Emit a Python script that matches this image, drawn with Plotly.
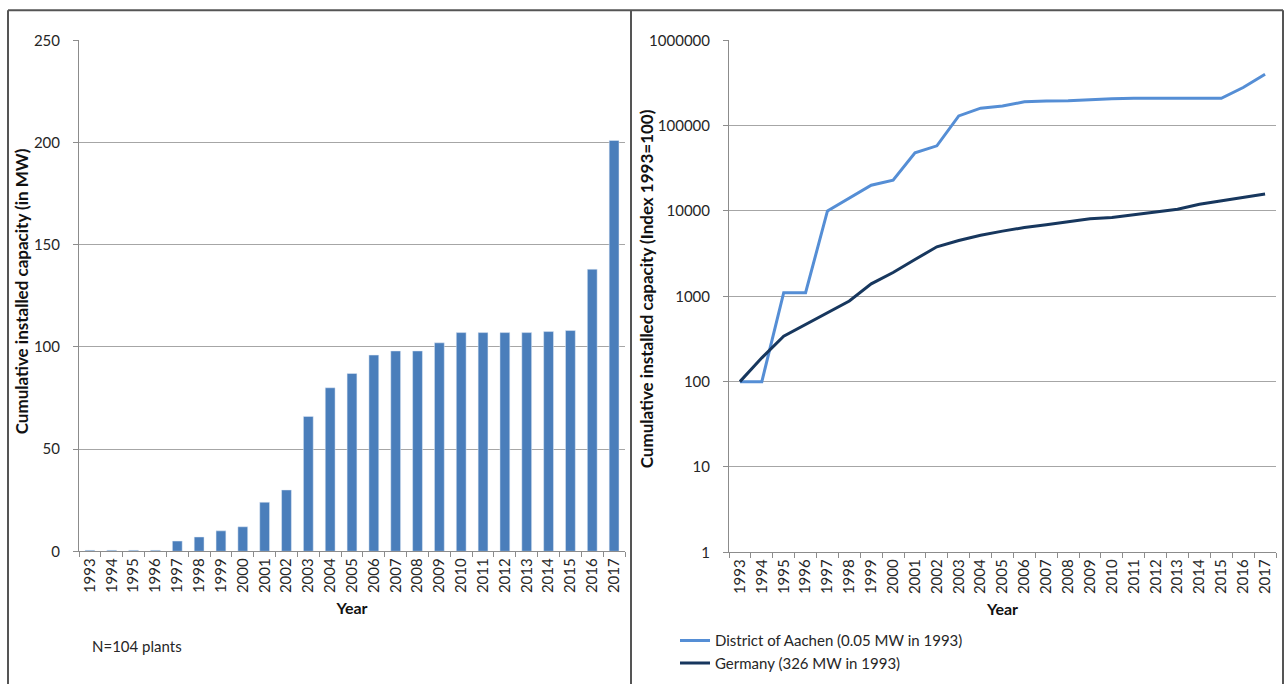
import plotly.graph_objects as go

# Years on the category axes
years = [str(y) for y in range(1993, 2018)]

# Cumulative installed capacity in the District of Aachen (MW)
capacity_mw = [0.5, 0.5, 0.5, 0.5, 5, 7, 10, 12, 24, 30, 66, 80, 87, 96, 98, 98,
               102, 107, 107, 107, 107, 107.5, 108, 138, 201]

# Indexed cumulative capacity (1993 = 100)
aachen_index = [100, 100, 1100, 1100, 10000, 14000, 20000, 23000, 48000, 58000,
                130000, 160000, 170000, 190000, 195000, 196000, 202000, 207000,
                209000, 209000, 209000, 209000, 209000, 280000, 400000]
germany_index = [100, 190, 340, 470, 640, 880, 1400, 1900, 2700, 3800, 4500, 5200,
                 5800, 6400, 6900, 7400, 8100, 8400, 9000, 9700, 10500, 12000,
                 13200, 14300, 15800]

W, H = 1287, 692
# vertical placement: screen y = SY * figure y + OY
SY, OY = 0.974, 9.7
FONT = "Lato, Open Sans, sans-serif"
GRID = "#a6a6a6"
AXIS = "#8c8c8c"
TXT = "#262626"


def px(x):
    return x / W


def py(y):
    return 1 - ((y - OY) / SY) / H


fig = go.Figure()

fig.add_trace(go.Bar(
    x=years, y=capacity_mw, marker_color="#4a7ebb", width=0.45,
    showlegend=False, xaxis="x", yaxis="y"))

fig.add_trace(go.Scatter(
    x=years, y=aachen_index, mode="lines", name="District of Aachen (0.05 MW in 1993)",
    line=dict(color="#558ed5", width=3), xaxis="x2", yaxis="y2"))
fig.add_trace(go.Scatter(
    x=years, y=germany_index, mode="lines", name="Germany (326 MW in 1993)",
    line=dict(color="#17375e", width=3), xaxis="x2", yaxis="y2"))

xcommon = dict(
    type="category", range=[-0.5, 24.5], tickangle=-90, ticks="outside",
    tickson="boundaries", ticklen=5, tickcolor=AXIS, showline=True,
    linecolor=AXIS, linewidth=1, showgrid=False, zeroline=False,
    tickfont=dict(family=FONT, size=15, color=TXT),
    title=dict(text="<b>Year</b>", font=dict(family=FONT, size=16, color="#111"),
               standoff=10))

ycommon = dict(
    showgrid=True, gridcolor=GRID, gridwidth=1.2, showline=True,
    linecolor=AXIS, ticks="outside", ticklen=5, tickcolor=AXIS,
    zeroline=False, ticklabelstandoff=10,
    tickfont=dict(family=FONT, size=15, color=TXT))

fig.update_layout(
    width=W, height=H, margin=dict(l=0, r=0, t=0, b=0),
    paper_bgcolor="white", plot_bgcolor="white",
    font=dict(family=FONT, color=TXT),
    xaxis=dict(domain=[px(79), px(625)], anchor="y", **xcommon),
    yaxis=dict(domain=[py(551), py(40)], anchor="x", range=[0, 250],
               tickvals=[0, 50, 100, 150, 200, 250], **ycommon),
    xaxis2=dict(domain=[px(729), px(1276)], anchor="y2", **xcommon),
    yaxis2=dict(domain=[py(552), py(40)], anchor="x2", type="log", range=[0, 6],
                tickvals=[1, 10, 100, 1000, 10000, 100000, 1000000],
                ticktext=["1", "10", "100", "1000", "10000", "100000", "1000000"],
                **ycommon),
    legend=dict(x=px(675), y=py(624), xanchor="left", yanchor="top",
                bgcolor="rgba(0,0,0,0)", itemwidth=30, tracegroupgap=0,
                font=dict(family=FONT, size=15, color=TXT)),
)

# Vertical axis titles
ytitle_font = dict(family=FONT, size=17, color="#111")
fig.add_annotation(text="<b>Cumulative installed capacity (in MW)</b>",
                   x=px(21), y=py(291), xref="paper", yref="paper",
                   xanchor="center", yanchor="middle",
                   textangle=-90, showarrow=False, font=ytitle_font)
fig.add_annotation(text="<b>Cumulative installed capacity (Index 1993=100)</b>",
                   x=px(646), y=py(288), xref="paper", yref="paper",
                   xanchor="center", yanchor="middle",
                   textangle=-90, showarrow=False, font=ytitle_font)

fig.add_annotation(text="N=104 plants", x=px(90), y=py(646), xref="paper",
                   yref="paper", xanchor="left", yanchor="middle", showarrow=False,
                   font=dict(family=FONT, size=15, color=TXT))

# Panel frames
frame = dict(color="#555555", width=2)
fig.add_shape(type="line", xref="paper", yref="paper", x0=px(8), x1=px(1283),
              y0=py(10), y1=py(10), line=frame)
for xv in (8, 631, 1283):
    fig.add_shape(type="line", xref="paper", yref="paper", x0=px(xv), x1=px(xv),
                  y0=py(10), y1=0, line=frame)

fig.write_html("out.html")
